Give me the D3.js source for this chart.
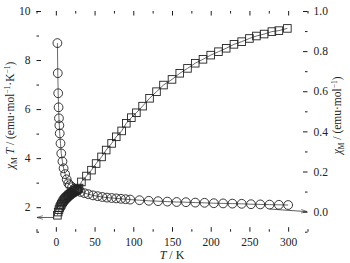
<!DOCTYPE html>
<html>
<head>
<meta charset="utf-8">
<script src="https://cdn.jsdelivr.net/npm/d3@7"></script>
<style>
  body { margin: 0; background: #fff; }
  svg { display: block; font-family: "Liberation Serif", "Times New Roman", serif; }
  .axis path, .axis line { stroke: #000; }
  .axis text { font-family: "Liberation Serif", "Times New Roman", serif; font-size: 11.5px; fill: #222; }
</style>
</head>
<body>
<svg id="chart" width="350" height="263"></svg>
<script>
// chi_M T (left axis) readings, squares
var chiTTemp = [2, 3, 4, 5, 6, 7, 8, 9, 10, 11, 12, 13, 14, 15, 16, 17, 18, 19, 20,
    21, 22, 23, 24, 25, 26, 27, 28, 29, 30,
    33, 39.5, 46, 52, 59, 65, 72, 78, 85, 91, 97.5, 104, 112, 121, 130, 139, 150,
    160, 170, 180, 190, 200, 210, 220, 230, 240, 250, 259, 269, 279, 288, 299];
var chiTValue = [1.67, 1.80, 1.90, 1.98, 2.05, 2.11, 2.17, 2.22, 2.27, 2.31, 2.35, 2.38,
    2.41, 2.44, 2.47, 2.50, 2.52, 2.55, 2.57, 2.59, 2.61, 2.63, 2.65, 2.67, 2.69, 2.71,
    2.73, 2.75, 2.78,
    3.03, 3.27, 3.51, 3.78, 4.05, 4.33, 4.60, 4.87, 5.11, 5.42, 5.65, 5.85, 6.12, 6.44,
    6.71, 6.98, 7.21, 7.46, 7.66, 7.87, 8.03, 8.20, 8.34, 8.48, 8.64, 8.75, 8.88, 8.98,
    9.06, 9.16, 9.20, 9.29];

// chi_M (right axis) readings, circles
var chiTempC = [2, 2.5, 3, 3.5, 4, 4.5, 5, 6, 7, 8.5, 10, 12, 14, 16, 18, 21, 24, 28,
    32, 37, 42, 48, 54, 60, 66, 72, 78, 84, 90, 96, 108, 120, 132, 144, 156, 168, 180,
    192, 204, 216, 228, 240, 252, 264, 276, 288, 300];
var chiValue = [0.84, 0.69, 0.59, 0.52, 0.465, 0.43, 0.39, 0.34, 0.29, 0.25, 0.216,
    0.187, 0.161, 0.141, 0.132, 0.122, 0.114, 0.105, 0.098, 0.092, 0.087, 0.081, 0.077,
    0.073, 0.070, 0.068, 0.066, 0.064, 0.062, 0.060, 0.057, 0.054, 0.052, 0.050, 0.048,
    0.047, 0.045, 0.044, 0.042, 0.041, 0.040, 0.039, 0.037, 0.036, 0.035, 0.034, 0.033];

// axis ticks
var xTicks = [0, 50, 100, 150, 200, 250, 300];
var xMinor = [-25, 25, 75, 125, 175, 225, 275, 325];
var yLeftTicks = [2, 4, 6, 8, 10];
var yLeftMinor = [1, 3, 5, 7, 9];
var yRightTicks = [0, 0.2, 0.4, 0.6, 0.8, 1.0];
var yRightMinor = [-0.1, 0.1, 0.3, 0.5, 0.7, 0.9];

// arrows pointing to the axis each series belongs to: [T0, v0, T1, v1]
var leftArrow = [-2, 1.58, -24.5, 1.58];
var rightArrow = [276, 0.013, 324.5, 0.0];

var width = 350, height = 263;
var margin = {top: 11, right: 42.5, bottom: 31.3, left: 36.5};
var innerW = width - margin.left - margin.right;
var innerH = height - margin.top - margin.bottom;

var svg = d3.select('#chart');

svg.append('defs').append('marker')
    .attr('id', 'arrow')
    .attr('viewBox', '0 0 10 10')
    .attr('refX', 10).attr('refY', 5)
    .attr('markerWidth', 6).attr('markerHeight', 6)
    .attr('markerUnits', 'userSpaceOnUse')
    .attr('orient', 'auto')
    .append('path')
    .attr('d', 'M0,2 L10,5 L0,8')
    .attr('fill', 'none')
    .attr('stroke', '#333')
    .attr('stroke-width', 1);

var g = svg.append('g')
    .attr('transform', 'translate(' + margin.left + ',' + margin.top + ')');

var x = d3.scaleLinear().domain([-25, 325]).range([0, innerW]);
var yL = d3.scaleLinear().domain([1, 10]).range([innerH, 0]);
var yR = d3.scaleLinear().domain([-0.1, 1.0]).range([innerH, 0]);

// axes, ticks inward
function tickAxis(axisFn, scale, major, minor, fmt, transform) {
    var a = g.append('g').attr('class', 'axis').attr('transform', transform);
    a.call(axisFn(scale).tickValues(major).tickSizeInner(-4.5).tickSizeOuter(0)
        .tickPadding(fmt ? 6 : 0).tickFormat(fmt || ''));
    a.append('g').call(axisFn(scale).tickValues(minor).tickSizeInner(-2.5).tickSizeOuter(0)
        .tickFormat(''));
    a.selectAll('g g path').remove();
    return a;
}
tickAxis(d3.axisBottom, x, xTicks, xMinor, d3.format('d'), 'translate(0,' + innerH + ')');
tickAxis(d3.axisTop, x, xTicks, xMinor, null, 'translate(0,0)');
tickAxis(d3.axisLeft, yL, yLeftTicks, yLeftMinor, d3.format('d'), 'translate(0,0)');
tickAxis(d3.axisRight, yR, yRightTicks, yRightMinor, d3.format('.1f'), 'translate(' + innerW + ',0)');
g.selectAll('.axis text').filter(function () { return this.textContent === ''; }).remove();
g.selectAll('.axis > path.domain').attr('stroke-width', 1.2);
g.selectAll('.axis line').attr('stroke-width', 0.9);

// chi_M T series
var squares = d3.zip(chiTTemp, chiTValue);
g.append('path').datum(squares)
    .attr('fill', 'none').attr('stroke', '#444').attr('stroke-width', 0.8)
    .attr('d', d3.line().x(function (d) { return x(d[0]); }).y(function (d) { return yL(d[1]); }));
var sq = 7.6;
g.selectAll('rect.sq').data(squares).enter().append('rect')
    .attr('class', 'sq')
    .attr('x', function (d) { return x(d[0]) - sq / 2; })
    .attr('y', function (d) { return yL(d[1]) - sq / 2; })
    .attr('width', sq).attr('height', sq)
    .attr('fill', 'none').attr('stroke', '#222').attr('stroke-width', 0.9);

// chi_M series
var circles = d3.zip(chiTempC, chiValue);
g.append('path').datum(circles)
    .attr('fill', 'none').attr('stroke', '#444').attr('stroke-width', 0.8)
    .attr('d', d3.line().x(function (d) { return x(d[0]); }).y(function (d) { return yR(d[1]); }));
g.selectAll('circle.c').data(circles).enter().append('circle')
    .attr('class', 'c')
    .attr('cx', function (d) { return x(d[0]); })
    .attr('cy', function (d) { return yR(d[1]); })
    .attr('r', 4.4)
    .attr('fill', 'none').attr('stroke', '#222').attr('stroke-width', 0.9);

// arrows
g.append('line')
    .attr('x1', x(leftArrow[0])).attr('y1', yL(leftArrow[1]))
    .attr('x2', x(leftArrow[2])).attr('y2', yL(leftArrow[3]))
    .attr('stroke', '#333').attr('stroke-width', 0.8).attr('marker-end', 'url(#arrow)');
g.append('line')
    .attr('x1', x(rightArrow[0])).attr('y1', yR(rightArrow[1]))
    .attr('x2', x(rightArrow[2])).attr('y2', yR(rightArrow[3]))
    .attr('stroke', '#333').attr('stroke-width', 0.8).attr('marker-end', 'url(#arrow)');

// axis titles
var xt = svg.append('text')
    .attr('x', margin.left + x(150)).attr('y', 259)
    .attr('text-anchor', 'middle').attr('font-size', 12).attr('fill', '#222');
xt.append('tspan').attr('font-style', 'italic').text('T');
xt.append('tspan').text(' / K');

function yTitle(cx, parts) {
    var t = svg.append('text')
        .attr('transform', 'translate(' + cx + ',' + (margin.top + innerH / 2 - 6) + ') rotate(-90)')
        .attr('text-anchor', 'middle').attr('font-size', 11.5).attr('fill', '#222');
    parts.forEach(function (p) {
        var s = t.append('tspan').text(p.t);
        if (p.i) s.attr('font-style', 'italic');
        if (p.dy) s.attr('dy', p.dy);
        if (p.fs) s.attr('font-size', p.fs);
    });
}
yTitle(14, [
    {t: 'χ', i: true}, {t: 'M', fs: 7.5, dy: 2.5}, {t: ' T', i: true, dy: -2.5},
    {t: ' / (emu·mol'}, {t: '−1', fs: 7.5, dy: -4}, {t: '·K', dy: 4},
    {t: '−1', fs: 7.5, dy: -4}, {t: ')', dy: 4}
]);
yTitle(341, [
    {t: 'χ', i: true}, {t: 'M', fs: 7.5, dy: 2.5}, {t: ' / (emu·mol', dy: -2.5},
    {t: '−1', fs: 7.5, dy: -4}, {t: ')', dy: 4}
]);
</script>
</body>
</html>
